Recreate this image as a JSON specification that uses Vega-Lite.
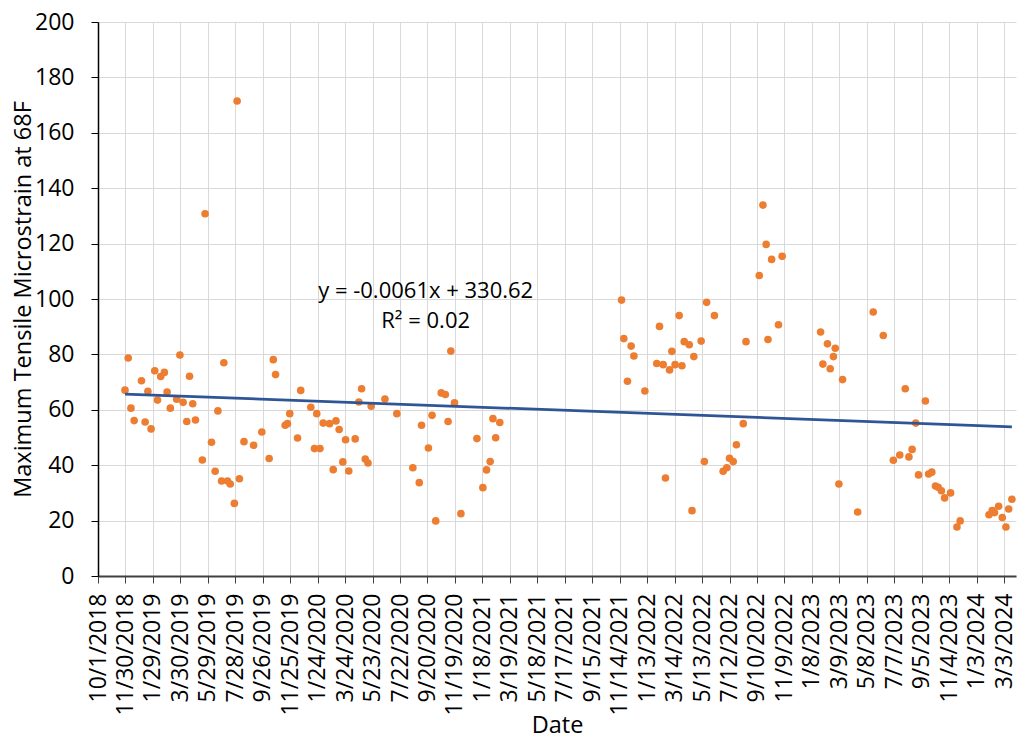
{
  "$schema": "https://vega.github.io/schema/vega-lite/v6.json",
  "autosize": "none",
  "width": 918,
  "height": 554,
  "padding": {"left": 98, "top": 22, "right": 2, "bottom": 167},
  "background": "white",
  "config": {
    "view": {"stroke": null},
    "font": "Open Sans",
    "axis": {"labelFont": "Open Sans", "titleFont": "Open Sans", "labelColor": "#000000", "titleColor": "#000000", "titleFontWeight": "normal", "labelFontSize": 23, "titleFontSize": 23.5, "gridColor": "#d9d9d9", "gridWidth": 1, "tickColor": "#404040", "domainColor": "#404040"}
  },
  "datasets": {
    "obs": [
      {"date": "2018-11-29", "strain": 67.1},
      {"date": "2018-12-06", "strain": 78.7},
      {"date": "2018-12-12", "strain": 60.6},
      {"date": "2018-12-19", "strain": 56.1},
      {"date": "2019-01-04", "strain": 70.5},
      {"date": "2019-01-12", "strain": 55.6},
      {"date": "2019-01-18", "strain": 66.7},
      {"date": "2019-01-25", "strain": 53.1},
      {"date": "2019-02-02", "strain": 74.1},
      {"date": "2019-02-08", "strain": 63.5},
      {"date": "2019-02-15", "strain": 72.0},
      {"date": "2019-02-23", "strain": 73.5},
      {"date": "2019-03-01", "strain": 66.4},
      {"date": "2019-03-08", "strain": 60.6},
      {"date": "2019-03-22", "strain": 63.8},
      {"date": "2019-03-29", "strain": 79.8},
      {"date": "2019-04-05", "strain": 62.7},
      {"date": "2019-04-13", "strain": 55.8},
      {"date": "2019-04-19", "strain": 72.1},
      {"date": "2019-04-26", "strain": 62.2},
      {"date": "2019-05-02", "strain": 56.3},
      {"date": "2019-05-17", "strain": 41.9},
      {"date": "2019-05-23", "strain": 130.8},
      {"date": "2019-06-06", "strain": 48.3},
      {"date": "2019-06-14", "strain": 37.8},
      {"date": "2019-06-20", "strain": 59.6},
      {"date": "2019-06-28", "strain": 34.3},
      {"date": "2019-07-03", "strain": 77.0},
      {"date": "2019-07-11", "strain": 34.3},
      {"date": "2019-07-17", "strain": 33.2},
      {"date": "2019-07-26", "strain": 26.2},
      {"date": "2019-08-01", "strain": 171.5},
      {"date": "2019-08-06", "strain": 35.1},
      {"date": "2019-08-16", "strain": 48.5},
      {"date": "2019-09-06", "strain": 47.2},
      {"date": "2019-09-24", "strain": 52.0},
      {"date": "2019-10-10", "strain": 42.4},
      {"date": "2019-10-19", "strain": 78.1},
      {"date": "2019-10-24", "strain": 72.7},
      {"date": "2019-11-14", "strain": 54.4},
      {"date": "2019-11-19", "strain": 55.0},
      {"date": "2019-11-24", "strain": 58.6},
      {"date": "2019-12-11", "strain": 49.8},
      {"date": "2019-12-18", "strain": 67.0},
      {"date": "2020-01-09", "strain": 60.9},
      {"date": "2020-01-17", "strain": 46.0},
      {"date": "2020-01-22", "strain": 58.6},
      {"date": "2020-01-29", "strain": 46.0},
      {"date": "2020-02-05", "strain": 55.2},
      {"date": "2020-02-19", "strain": 55.0},
      {"date": "2020-02-27", "strain": 38.4},
      {"date": "2020-03-04", "strain": 56.0},
      {"date": "2020-03-11", "strain": 52.9},
      {"date": "2020-03-19", "strain": 41.2},
      {"date": "2020-03-25", "strain": 49.2},
      {"date": "2020-04-01", "strain": 37.9},
      {"date": "2020-04-15", "strain": 49.5},
      {"date": "2020-04-23", "strain": 62.8},
      {"date": "2020-04-29", "strain": 67.6},
      {"date": "2020-05-07", "strain": 42.2},
      {"date": "2020-05-13", "strain": 40.8},
      {"date": "2020-05-20", "strain": 61.3},
      {"date": "2020-06-19", "strain": 63.9},
      {"date": "2020-07-15", "strain": 58.6},
      {"date": "2020-08-19", "strain": 39.1},
      {"date": "2020-09-02", "strain": 33.7},
      {"date": "2020-09-07", "strain": 54.4},
      {"date": "2020-09-22", "strain": 46.2},
      {"date": "2020-09-30", "strain": 58.0},
      {"date": "2020-10-08", "strain": 19.9},
      {"date": "2020-10-20", "strain": 66.1},
      {"date": "2020-10-29", "strain": 65.5},
      {"date": "2020-11-04", "strain": 55.8},
      {"date": "2020-11-10", "strain": 81.2},
      {"date": "2020-11-18", "strain": 62.5},
      {"date": "2020-12-02", "strain": 22.5},
      {"date": "2021-01-06", "strain": 49.6},
      {"date": "2021-01-19", "strain": 31.9},
      {"date": "2021-01-27", "strain": 38.3},
      {"date": "2021-02-04", "strain": 41.3},
      {"date": "2021-02-10", "strain": 56.8},
      {"date": "2021-02-16", "strain": 49.9},
      {"date": "2021-02-25", "strain": 55.4},
      {"date": "2021-11-18", "strain": 99.6},
      {"date": "2021-11-23", "strain": 85.7},
      {"date": "2021-12-01", "strain": 70.3},
      {"date": "2021-12-09", "strain": 83.0},
      {"date": "2021-12-15", "strain": 79.4},
      {"date": "2022-01-08", "strain": 66.8},
      {"date": "2022-02-03", "strain": 76.7},
      {"date": "2022-02-09", "strain": 90.1},
      {"date": "2022-02-17", "strain": 76.3},
      {"date": "2022-02-22", "strain": 35.4},
      {"date": "2022-03-03", "strain": 74.4},
      {"date": "2022-03-08", "strain": 81.1},
      {"date": "2022-03-15", "strain": 76.3},
      {"date": "2022-03-24", "strain": 94.0},
      {"date": "2022-03-30", "strain": 75.9},
      {"date": "2022-04-04", "strain": 84.6},
      {"date": "2022-04-15", "strain": 83.5},
      {"date": "2022-04-21", "strain": 23.6},
      {"date": "2022-04-25", "strain": 79.2},
      {"date": "2022-05-11", "strain": 84.8},
      {"date": "2022-05-18", "strain": 41.3},
      {"date": "2022-05-23", "strain": 98.8},
      {"date": "2022-06-09", "strain": 94.0},
      {"date": "2022-06-28", "strain": 37.8},
      {"date": "2022-07-06", "strain": 39.1},
      {"date": "2022-07-12", "strain": 42.5},
      {"date": "2022-07-20", "strain": 41.3},
      {"date": "2022-07-27", "strain": 47.4},
      {"date": "2022-08-11", "strain": 55.0},
      {"date": "2022-08-17", "strain": 84.6},
      {"date": "2022-09-15", "strain": 108.5},
      {"date": "2022-09-23", "strain": 133.9},
      {"date": "2022-09-30", "strain": 119.7},
      {"date": "2022-10-04", "strain": 85.4},
      {"date": "2022-10-12", "strain": 114.3},
      {"date": "2022-10-27", "strain": 90.7},
      {"date": "2022-11-04", "strain": 115.4},
      {"date": "2023-01-27", "strain": 88.1},
      {"date": "2023-02-01", "strain": 76.5},
      {"date": "2023-02-11", "strain": 83.8},
      {"date": "2023-02-17", "strain": 74.8},
      {"date": "2023-02-24", "strain": 79.2},
      {"date": "2023-02-28", "strain": 82.2},
      {"date": "2023-03-08", "strain": 33.2},
      {"date": "2023-03-16", "strain": 70.9},
      {"date": "2023-04-18", "strain": 23.1},
      {"date": "2023-05-22", "strain": 95.3},
      {"date": "2023-06-13", "strain": 86.8},
      {"date": "2023-07-05", "strain": 41.8},
      {"date": "2023-07-19", "strain": 43.7},
      {"date": "2023-07-31", "strain": 67.6},
      {"date": "2023-08-08", "strain": 43.0},
      {"date": "2023-08-15", "strain": 45.7},
      {"date": "2023-08-23", "strain": 55.2},
      {"date": "2023-08-29", "strain": 36.5},
      {"date": "2023-09-13", "strain": 63.2},
      {"date": "2023-09-20", "strain": 36.8},
      {"date": "2023-09-27", "strain": 37.5},
      {"date": "2023-10-05", "strain": 32.5},
      {"date": "2023-10-11", "strain": 32.0},
      {"date": "2023-10-18", "strain": 30.8},
      {"date": "2023-10-25", "strain": 28.2},
      {"date": "2023-11-07", "strain": 30.0},
      {"date": "2023-11-21", "strain": 17.7},
      {"date": "2023-11-28", "strain": 19.9},
      {"date": "2024-01-30", "strain": 22.1},
      {"date": "2024-02-06", "strain": 23.6},
      {"date": "2024-02-11", "strain": 22.9},
      {"date": "2024-02-20", "strain": 25.2},
      {"date": "2024-02-28", "strain": 21.1},
      {"date": "2024-03-07", "strain": 17.7},
      {"date": "2024-03-13", "strain": 24.2},
      {"date": "2024-03-20", "strain": 27.7}
    ],
    "trend": [
      {"date": "2018-11-29", "strain": 65.68},
      {"date": "2024-03-20", "strain": 53.86}
    ],
    "notes": [
      {"date": "2020-09-16", "strain": 100.3, "label": "y = -0.0061x + 330.62"},
      {"date": "2020-09-16", "strain": 89.4, "label": "R² = 0.02"}
    ]
  },
  "encoding": {
    "x": {
      "field": "date", "type": "temporal",
      "scale": {"type": "utc", "domain": [{"year": 2018, "month": 10, "date": 1, "utc": true}, {"year": 2024, "month": 3, "date": 29, "utc": true}], "nice": false},
      "axis": {
        "title": "Date", "format": "%-m/%-d/%Y", "labelAngle": 270, "labelAlign": "right", "labelBaseline": "middle",
        "tickSize": 7, "labelPadding": 10, "titleY": 156, "titleBaseline": "alphabetic", "domainWidth": 2, "labelOverlap": false, "labelBound": false, "labelFlush": false,
        "values": [
          {"year": 2018, "month": 10, "date": 1, "utc": true},
          {"year": 2018, "month": 11, "date": 30, "utc": true},
          {"year": 2019, "month": 1, "date": 29, "utc": true},
          {"year": 2019, "month": 3, "date": 30, "utc": true},
          {"year": 2019, "month": 5, "date": 29, "utc": true},
          {"year": 2019, "month": 7, "date": 28, "utc": true},
          {"year": 2019, "month": 9, "date": 26, "utc": true},
          {"year": 2019, "month": 11, "date": 25, "utc": true},
          {"year": 2020, "month": 1, "date": 24, "utc": true},
          {"year": 2020, "month": 3, "date": 24, "utc": true},
          {"year": 2020, "month": 5, "date": 23, "utc": true},
          {"year": 2020, "month": 7, "date": 22, "utc": true},
          {"year": 2020, "month": 9, "date": 20, "utc": true},
          {"year": 2020, "month": 11, "date": 19, "utc": true},
          {"year": 2021, "month": 1, "date": 18, "utc": true},
          {"year": 2021, "month": 3, "date": 19, "utc": true},
          {"year": 2021, "month": 5, "date": 18, "utc": true},
          {"year": 2021, "month": 7, "date": 17, "utc": true},
          {"year": 2021, "month": 9, "date": 15, "utc": true},
          {"year": 2021, "month": 11, "date": 14, "utc": true},
          {"year": 2022, "month": 1, "date": 13, "utc": true},
          {"year": 2022, "month": 3, "date": 14, "utc": true},
          {"year": 2022, "month": 5, "date": 13, "utc": true},
          {"year": 2022, "month": 7, "date": 12, "utc": true},
          {"year": 2022, "month": 9, "date": 10, "utc": true},
          {"year": 2022, "month": 11, "date": 9, "utc": true},
          {"year": 2023, "month": 1, "date": 8, "utc": true},
          {"year": 2023, "month": 3, "date": 9, "utc": true},
          {"year": 2023, "month": 5, "date": 8, "utc": true},
          {"year": 2023, "month": 7, "date": 7, "utc": true},
          {"year": 2023, "month": 9, "date": 5, "utc": true},
          {"year": 2023, "month": 11, "date": 4, "utc": true},
          {"year": 2024, "month": 1, "date": 3, "utc": true},
          {"year": 2024, "month": 3, "date": 3, "utc": true}
        ]
      }
    },
    "y": {
      "field": "strain", "type": "quantitative",
      "scale": {"domain": [0, 200], "nice": false, "zero": true},
      "axis": {"title": "Maximum Tensile Microstrain at 68F", "values": [0, 20, 40, 60, 80, 100, 120, 140, 160, 180, 200], "tickSize": 7, "labelPadding": 17, "titleX": -68, "titleBaseline": "alphabetic", "domainColor": "#000000", "domainWidth": 1.5, "tickColor": "#000000"}
    }
  },
  "layer": [
    {"data": {"name": "obs"}, "mark": {"type": "circle", "size": 58, "color": "#ED7D31", "opacity": 1}},
    {"data": {"name": "trend"}, "mark": {"type": "line", "color": "#2F5597", "strokeWidth": 2.75}},
    {"data": {"name": "notes"}, "mark": {"type": "text", "font": "Open Sans", "fontSize": 22, "color": "#000000", "align": "center", "baseline": "alphabetic"}, "encoding": {"text": {"field": "label"}}}
  ]
}
